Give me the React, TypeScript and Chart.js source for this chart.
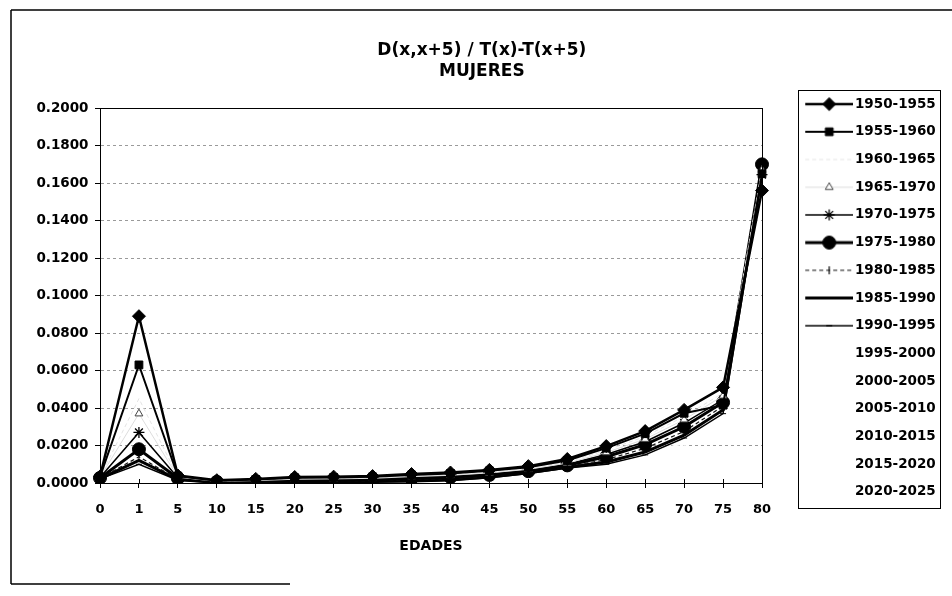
import React, { useEffect, useRef } from 'react';
import { Chart, registerables } from 'chart.js';

Chart.register(...registerables);

// ---------- data ----------
const AGE_LABELS = ['0', '1', '5', '10', '15', '20', '25', '30', '35', '40', '45', '50', '55', '60', '65', '70', '75', '80'];

const PERIODS = [
  '1950-1955', '1955-1960', '1960-1965', '1965-1970', '1970-1975',
  '1975-1980', '1980-1985', '1985-1990', '1990-1995', '1995-2000',
  '2000-2005', '2005-2010', '2010-2015', '2015-2020', '2020-2025',
];

const V_1950_1955 = [0.0035, 0.0890, 0.0040, 0.0015, 0.0022, 0.0032, 0.0034, 0.0037, 0.0048, 0.0056, 0.0070, 0.0090, 0.0128, 0.0197, 0.0277, 0.0390, 0.0510, 0.1560];
const V_1955_1960 = [0.0033, 0.0630, 0.0037, 0.0012, 0.0019, 0.0028, 0.0030, 0.0033, 0.0043, 0.0051, 0.0065, 0.0084, 0.0120, 0.0186, 0.0263, 0.0372, 0.0415, 0.1650];
const V_1960_1965 = [0.0031, 0.0450, 0.0034, 0.0010, 0.0016, 0.0024, 0.0026, 0.0029, 0.0038, 0.0046, 0.0059, 0.0078, 0.0112, 0.0174, 0.0248, 0.0355, 0.0480, 0.1680];
const V_1965_1970 = [0.0030, 0.0370, 0.0031, 0.0009, 0.0013, 0.0020, 0.0022, 0.0025, 0.0034, 0.0041, 0.0054, 0.0073, 0.0106, 0.0163, 0.0234, 0.0338, 0.0465, 0.1670];
const V_1970_1975 = [0.0029, 0.0270, 0.0028, 0.0008, 0.0011, 0.0016, 0.0018, 0.0021, 0.0029, 0.0036, 0.0048, 0.0068, 0.0100, 0.0152, 0.0220, 0.0320, 0.0445, 0.1645];
const V_1975_1980 = [0.0027, 0.0180, 0.0025, 0.0006, 0.0008, 0.0012, 0.0014, 0.0017, 0.0024, 0.0031, 0.0043, 0.0063, 0.0094, 0.0140, 0.0205, 0.0300, 0.0430, 0.1700];
const V_1980_1985 = [0.0025, 0.0140, 0.0021, 0.0004, 0.0005, 0.0008, 0.0010, 0.0012, 0.0018, 0.0024, 0.0037, 0.0058, 0.0088, 0.0125, 0.0185, 0.0275, 0.0410, 0.1680];
const V_1985_1990 = [0.0023, 0.0120, 0.0018, 0.0003, 0.0003, 0.0005, 0.0006, 0.0008, 0.0012, 0.0018, 0.0032, 0.0054, 0.0084, 0.0112, 0.0165, 0.0255, 0.0390, 0.1660];
const V_1990_1995 = [0.0022, 0.0100, 0.0015, 0.0002, 0.0002, 0.0003, 0.0004, 0.0005, 0.0007, 0.0012, 0.0028, 0.0050, 0.0080, 0.0100, 0.0150, 0.0240, 0.0370, 0.1630];
const V_1995_2000 = [0.0023, 0.0090, 0.0018, 0.0006, 0.0006, 0.0007, 0.0009, 0.0011, 0.0014, 0.0018, 0.0029, 0.0048, 0.0071, 0.0094, 0.0146, 0.0232, 0.0355, 0.1610];
const V_2000_2005 = [0.0022, 0.0082, 0.0016, 0.0006, 0.0006, 0.0007, 0.0008, 0.0010, 0.0013, 0.0017, 0.0027, 0.0045, 0.0067, 0.0089, 0.0139, 0.0222, 0.0342, 0.1600];
const V_2005_2010 = [0.0021, 0.0076, 0.0015, 0.0006, 0.0006, 0.0006, 0.0007, 0.0009, 0.0012, 0.0016, 0.0025, 0.0042, 0.0063, 0.0085, 0.0133, 0.0213, 0.0331, 0.1590];
const V_2010_2015 = [0.0020, 0.0070, 0.0014, 0.0006, 0.0006, 0.0006, 0.0007, 0.0008, 0.0011, 0.0015, 0.0023, 0.0040, 0.0060, 0.0081, 0.0128, 0.0205, 0.0321, 0.1580];
const V_2015_2020 = [0.0019, 0.0065, 0.0013, 0.0006, 0.0006, 0.0006, 0.0006, 0.0008, 0.0010, 0.0014, 0.0022, 0.0038, 0.0057, 0.0078, 0.0123, 0.0198, 0.0312, 0.1570];
const V_2020_2025 = [0.0018, 0.0060, 0.0012, 0.0006, 0.0006, 0.0006, 0.0006, 0.0007, 0.0010, 0.0013, 0.0021, 0.0036, 0.0055, 0.0075, 0.0119, 0.0192, 0.0305, 0.1565];

const SERIES_VALUES = [
  V_1950_1955, V_1955_1960, V_1960_1965, V_1965_1970, V_1970_1975,
  V_1975_1980, V_1980_1985, V_1985_1990, V_1990_1995, V_1995_2000,
  V_2000_2005, V_2005_2010, V_2010_2015, V_2015_2020, V_2020_2025,
];

const Y_MIN = 0;
const Y_MAX = 0.2;
const Y_STEP = 0.02;

const TITLE_LINES = ['D(x,x+5) / T(x)-T(x+5)', 'MUJERES'];
const X_TITLE = 'EDADES';

// ---------- styles ----------
type St = { color: string; width: number; dash: number[]; point: string | null; radius: number; fill: string; pcolor: string };
const WHITE: St = { color: '#ffffff', width: 1, dash: [], point: null, radius: 0, fill: '#ffffff', pcolor: '#ffffff' };
const STYLES: St[] = [
  { color: '#000', width: 2.5, dash: [], point: 'rectRot', radius: 6.5, fill: '#000', pcolor: '#000' },
  { color: '#000', width: 2, dash: [], point: 'rect', radius: 5.5, fill: '#000', pcolor: '#000' },
  { color: '#e4e4e4', width: 1, dash: [4, 3], point: null, radius: 0, fill: '#fff', pcolor: '#e4e4e4' },
  { color: '#dddddd', width: 1, dash: [], point: 'triangle', radius: 4.5, fill: '#fff', pcolor: '#444' },
  { color: '#000', width: 1.5, dash: [], point: 'star', radius: 5.5, fill: '#000', pcolor: '#000' },
  { color: '#000', width: 3, dash: [], point: 'circle', radius: 6.5, fill: '#000', pcolor: '#000' },
  { color: '#111', width: 1.2, dash: [4, 3], point: 'lineV', radius: 4, fill: '#000', pcolor: '#000' },
  { color: '#000', width: 3, dash: [], point: 'line', radius: 2, fill: '#000', pcolor: '#000' },
  { color: '#000', width: 1.5, dash: [], point: 'line', radius: 3, fill: '#000', pcolor: '#000' },
  WHITE, WHITE, WHITE, WHITE, WHITE, WHITE,
];

const FONT = "'DejaVu Sans'";
const LEGEND_FS = 13.5;
const LEGEND_PAD = 14.2;
const LEGEND_BOX_W = 72;
const PAD_L = 18;

function drawMarker(g: CanvasRenderingContext2D, st: St, x: number, y: number) {
  const r = st.radius;
  if (!st.point) return;
  g.save();
  g.setLineDash([]);
  g.fillStyle = st.fill;
  g.strokeStyle = st.pcolor;
  g.lineWidth = 1;
  g.beginPath();
  switch (st.point) {
    case 'rectRot':
      g.moveTo(x - r, y); g.lineTo(x, y - r); g.lineTo(x + r, y); g.lineTo(x, y + r); g.closePath();
      g.fill(); g.stroke(); break;
    case 'rect': {
      const s = Math.SQRT1_2 * r;
      g.rect(x - s, y - s, 2 * s, 2 * s); g.fill(); g.stroke(); break;
    }
    case 'circle':
      g.arc(x, y, r, 0, Math.PI * 2); g.fill(); g.stroke(); break;
    case 'triangle': {
      let a = 0;
      g.moveTo(x + Math.sin(a) * r, y - Math.cos(a) * r);
      a += (2 * Math.PI) / 3; g.lineTo(x + Math.sin(a) * r, y - Math.cos(a) * r);
      a += (2 * Math.PI) / 3; g.lineTo(x + Math.sin(a) * r, y - Math.cos(a) * r);
      g.closePath(); g.fill(); g.stroke(); break;
    }
    case 'star': {
      g.lineWidth = 1.3;
      g.moveTo(x - r, y); g.lineTo(x + r, y);
      g.moveTo(x, y - r); g.lineTo(x, y + r);
      const d = r * Math.SQRT1_2;
      g.moveTo(x - d, y - d); g.lineTo(x + d, y + d);
      g.moveTo(x - d, y + d); g.lineTo(x + d, y - d);
      g.stroke(); break;
    }
    case 'line':
      g.lineWidth = 1.5;
      g.moveTo(x - r, y); g.lineTo(x + r, y); g.stroke(); break;
    case 'lineV':
      g.lineWidth = 1.2;
      g.moveTo(x, y - r); g.lineTo(x, y + r); g.stroke(); break;
  }
  g.restore();
}

function makeSample(st: St): HTMLCanvasElement {
  const c = document.createElement('canvas');
  c.width = 82;
  c.height = 16;
  const g = c.getContext('2d') as CanvasRenderingContext2D;
  g.strokeStyle = st.color;
  g.lineWidth = st.width;
  g.setLineDash(st.dash);
  g.beginPath();
  g.moveTo(34, 8);
  g.lineTo(82, 8);
  g.stroke();
  drawMarker(g, st, 58, 8);
  return c;
}

const decorPlugin = {
  id: 'decor',
  afterDatasetsDraw(chart: any) {
    const { ctx, chartArea } = chart;
    const a = chartArea;
    ctx.save();
    ctx.strokeStyle = '#000';
    ctx.lineWidth = 1;
    ctx.setLineDash([]);
    ctx.strokeRect(Math.round(a.left) + 0.5, Math.round(a.top) + 0.5, Math.round(a.right - a.left), Math.round(a.bottom - a.top));
    const xs = chart.scales.x;
    ctx.beginPath();
    for (let i = 0; i < xs.ticks.length; i++) {
      const px = Math.round(xs.getPixelForTick(i)) + 0.5;
      ctx.moveTo(px, a.bottom - 4);
      ctx.lineTo(px, a.bottom);
    }
    ctx.stroke();
    ctx.restore();
  },
  afterDraw(chart: any) {
    const { ctx } = chart;
    ctx.save();
    ctx.strokeStyle = '#000';
    ctx.setLineDash([]);
    // legend border
    const lg = chart.legend;
    if (lg && lg.legendHitBoxes && lg.legendHitBoxes.length) {
      const hb = lg.legendHitBoxes;
      const first = hb[0];
      const last = hb[hb.length - 1];
      const left = Math.round(first.left + 22) + 0.5;
      const right = Math.round(lg.right - 6) + 0.5;
      const top = Math.round(first.top - 7) + 0.5;
      const bottom = Math.round(last.top + last.height + 9.5) + 0.5;
      ctx.lineWidth = 1;
      ctx.strokeRect(left, top, right - left, bottom - top);
    }
    // outer frame (scanned page border)
    ctx.lineWidth = 1.5;
    ctx.beginPath();
    ctx.moveTo(11, 10); ctx.lineTo(chart.width, 10);
    ctx.moveTo(11, 10); ctx.lineTo(11, 584);
    ctx.moveTo(11, 584); ctx.lineTo(290, 584);
    ctx.stroke();
    ctx.restore();
  },
};

export default function App() {
  const ref = useRef<HTMLCanvasElement | null>(null);

  useEffect(() => {
    if (!ref.current) return;
    const samples = STYLES.map(makeSample);

    const mc = document.createElement('canvas').getContext('2d') as CanvasRenderingContext2D;
    mc.font = `normal bold ${LEGEND_FS}px ${FONT}`;
    const tw = Math.max(...PERIODS.map((p) => mc.measureText(p).width));
    const legendW = LEGEND_PAD + LEGEND_BOX_W + LEGEND_FS / 2 + tw + 10;
    const padRight = Math.max(0, 952 - 762 - legendW);

    const datasets = PERIODS.map((label, i) => {
      const st = STYLES[i];
      return {
        label,
        data: SERIES_VALUES[i],
        borderColor: st.color,
        backgroundColor: st.fill,
        borderWidth: st.width,
        borderDash: st.dash,
        pointStyle: st.point ? (st.point === 'lineV' ? 'line' : st.point) : false,
        pointRotation: st.point === 'lineV' ? 90 : 0,
        pointRadius: st.point ? st.radius : 0,
        pointBackgroundColor: st.fill,
        pointBorderColor: st.pcolor,
        pointBorderWidth: st.point === 'star' ? 1.3 : 1,
        tension: 0,
        fill: false,
      };
    });

    const chart = new Chart(ref.current, {
      type: 'line',
      data: { labels: AGE_LABELS, datasets: datasets as any },
      options: {
        responsive: false,
        animation: false,
        events: [],
        layout: { padding: { left: PAD_L, right: padRight, top: 10, bottom: 10 } },
        plugins: {
          title: {
            display: true,
            text: TITLE_LINES,
            color: '#000',
            font: { family: FONT, size: 17, weight: 'bold', lineHeight: 1.18 },
            padding: { top: 31, bottom: 27 },
          },
          legend: {
            display: true,
            position: 'right',
            align: 'center',
            labels: {
              usePointStyle: true,
              pointStyleWidth: LEGEND_BOX_W,
              padding: LEGEND_PAD,
              color: '#000',
              font: { family: FONT, size: LEGEND_FS, weight: 'bold' },
              generateLabels: (ch: any) =>
                ch.data.datasets.map((ds: any, i: number) => ({
                  text: ds.label,
                  pointStyle: samples[i],
                  fillStyle: 'rgba(0,0,0,0)',
                  strokeStyle: 'rgba(0,0,0,0)',
                  lineWidth: 0,
                  hidden: false,
                  datasetIndex: i,
                  fontColor: '#000',
                })),
            },
          },
          tooltip: { enabled: false },
        },
        scales: {
          x: {
            type: 'category',
            offset: false,
            grid: { drawOnChartArea: false, drawTicks: true, tickLength: 5, tickColor: '#000', tickWidth: 1 },
            border: { color: '#000', width: 1, z: 1 },
            ticks: {
              color: '#000',
              font: { family: FONT, size: 13, weight: 'bold' },
              padding: 13.7,
              autoSkip: false,
              maxRotation: 0,
              minRotation: 0,
            },
            title: {
              display: true,
              text: X_TITLE,
              color: '#000',
              font: { family: FONT, size: 14, weight: 'bold', lineHeight: 1.2 },
              padding: { top: 4, bottom: 31.6 },
            },
            afterFit: (s: any) => { s.height = 103; },
          },
          y: {
            type: 'linear',
            min: Y_MIN,
            max: Y_MAX,
            ticks: {
              stepSize: Y_STEP,
              callback: (v: any) => Number(v).toFixed(4),
              color: '#000',
              font: { family: FONT, size: 13.5, weight: 'bold' },
              padding: 6.5,
            },
            grid: { color: '#9a9a9a', lineWidth: 1, tickColor: '#000', tickLength: 5, tickWidth: 1, drawTicks: true },
            border: { color: '#000', width: 1, dash: [3, 3], z: 1 },
            afterFit: (s: any) => { s.width = 100 - PAD_L; },
          },
        },
      } as any,
      plugins: [decorPlugin],
    });

    return () => chart.destroy();
  }, []);

  return (
    <div style={{ position: 'absolute', left: 0, top: 0, width: 952, height: 596, background: '#fff' }}>
      <canvas ref={ref} width={952} height={596} style={{ display: 'block' }} />
    </div>
  );
}
